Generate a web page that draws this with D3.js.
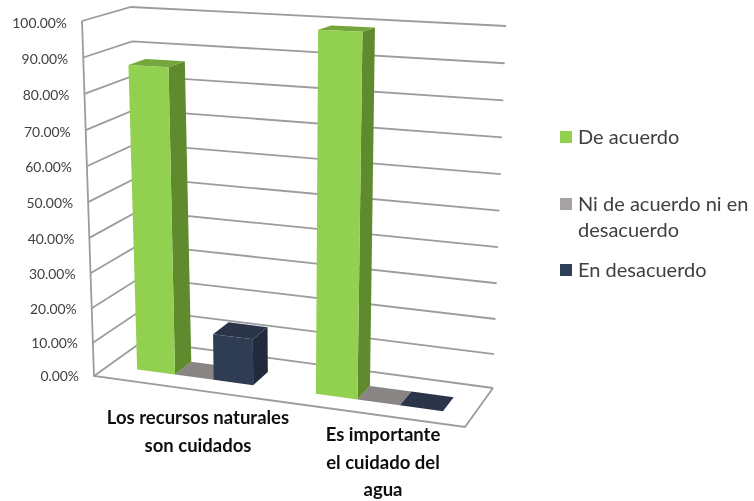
<!DOCTYPE html>
<html><head><meta charset="utf-8">
<script src="https://cdn.jsdelivr.net/npm/d3@7/dist/d3.min.js"></script>
<style>html,body{margin:0;padding:0;background:#fff}svg{display:block}</style>
</head><body><svg id="c" width="754" height="501"></svg>
<script>
const categories = [["Los recursos naturales","son cuidados"],["Es importante","el cuidado del","agua"]];
const seriesNames = ["De acuerdo","Ni de acuerdo ni en desacuerdo","En desacuerdo"];
const deAcuerdo = [87, 99];
const niDeAcuerdo = [0, 0];
const enDesacuerdo = [13.5, 0];
const yTicks = [0,10,20,30,40,50,60,70,80,90,100];

const root = d3.select("#c");
const defs = root.append("defs");
defs.append("filter").attr("id","soft").attr("x",0).attr("y",0).attr("width","100%").attr("height","100%")
  .append("feGaussianBlur").attr("stdDeviation",0.4);
const svg = root.append("g").attr("filter","url(#soft)");
svg.append("rect").attr("width",754).attr("height",501).attr("fill","#fff");
const FONT = "Lato,'Open Sans',sans-serif";
// projected corners of the 3D box [x,y]
const box = {
  flb:[94,376], frb:[465,427], blb:[143,341], brb:[493,388],
  flt:[82,21],  frt:[478,36],  blt:[131,7],   brt:[506,26]
};
// perspective makes upper values and farther-right positions slightly larger
const yS = d3.scalePow().exponent(1.03).domain([0,100]).range([0,1]);
const uWarp = u => u + 0.09*u*(u-1);
const lerp = (a,b,t)=>[d3.interpolateNumber(a[0],b[0])(t), d3.interpolateNumber(a[1],b[1])(t)];
function P(u0,v,val){
  const w = yS(val), u = uWarp(u0);
  const fb = lerp(box.flb,box.frb,u), bb = lerp(box.blb,box.brb,u);
  const ft = lerp(box.flt,box.frt,u), bt = lerp(box.blt,box.brt,u);
  return lerp(lerp(fb,bb,v), lerp(ft,bt,v), w);
}
const line = d3.line();
const catKeys = categories.map(c=>c.join(" "));
const x0 = d3.scaleBand().domain(catKeys).range([-0.001,1.009]).paddingInner(0.3406).paddingOuter(0.1703);
const x1 = d3.scaleBand().domain(seriesNames).range([0,x0.bandwidth()]);
const vFront = 0.30, vBack = 0.66;
const colors = {
  "De acuerdo":{front:"#92d050",side:"#5f8a2f",top:"#74a63a",legend:"#92d050"},
  "Ni de acuerdo ni en desacuerdo":{front:"#a6a2a2",side:"#6e6b6b",top:"#8a8585",legend:"#a6a2a2"},
  "En desacuerdo":{front:"#2f3d52",side:"#232c3a",top:"#29344a",legend:"#2f4058"}
};
const GRID="#9c9c9c";
const g = svg.append("g").attr("fill","none").attr("stroke",GRID).attr("stroke-width",1.8);
yTicks.forEach(t=>{
  g.append("path").attr("d",line([P(0,0,t),P(0,1,t),P(1,1,t)]));
});
g.append("path").attr("d",line([P(0,0,100),P(0,0,0),P(1,0,0),P(1,1,0)]));

// tick labels
svg.append("g").selectAll("text").data(yTicks).join("text")
  .attr("x",d=>P(0,0,d)[0]-15).attr("y",d=>P(0,0,d)[1]+5+2*yS(d))
  .attr("text-anchor","end").attr("font-family",FONT).attr("font-size",13.9).attr("fill","#404040")
  .text(d=>d.toFixed(2)+"%");

// bars
const bars=[];
const seriesValues=[deAcuerdo,niDeAcuerdo,enDesacuerdo];
seriesNames.forEach((s,i)=>catKeys.forEach((c,j)=>bars.push({s,c,val:seriesValues[i][j]})));
bars.sort((a,b)=>a.val-b.val);
const bg = svg.append("g");
bars.forEach(b=>{
  const u0=x0(b.c)+x1(b.s), u1=u0+x1.bandwidth(), col=colors[b.s];
  const poly=(pts,f)=>bg.append("path").attr("d",line(pts)+"Z").attr("fill",f);
  poly([P(u1,vFront,0),P(u1,vBack,0),P(u1,vBack,b.val),P(u1,vFront,b.val)],col.side);
  poly([P(u0,vFront,b.val),P(u1,vFront,b.val),P(u1,vBack,b.val),P(u0,vBack,b.val)],col.top);
  if(b.val>0) poly([P(u0,vFront,0),P(u1,vFront,0),P(u1,vFront,b.val),P(u0,vFront,b.val)],col.front);
});

// category labels
const catPos=[{x:198,y:424},{x:383,y:441}];
categories.forEach((lines,i)=>{
  svg.append("text").attr("font-family",FONT).attr("font-weight",700).attr("font-size",18.5).attr("fill","#111")
    .attr("text-anchor","middle")
    .selectAll("tspan").data(lines).join("tspan")
    .attr("x",catPos[i].x).attr("y",(d,k)=>catPos[i].y+k*(i?27.5:28)).text(d=>d);
});

// legend
const legY=[137,204,270], legLines=[["De acuerdo"],["Ni de acuerdo ni en","desacuerdo"],["En desacuerdo"]];
seriesNames.forEach((s,i)=>{
  svg.append("rect").attr("x",560).attr("y",legY[i]-6).attr("width",12).attr("height",12).attr("fill",colors[s].legend);
  svg.append("text").attr("font-family",FONT).attr("font-size",20).attr("fill","#404040")
   .selectAll("tspan").data(legLines[i]).join("tspan")
   .attr("x",578).attr("y",(d,k)=>legY[i]+7+k*26).text(d=>d);
});
</script></body></html>
